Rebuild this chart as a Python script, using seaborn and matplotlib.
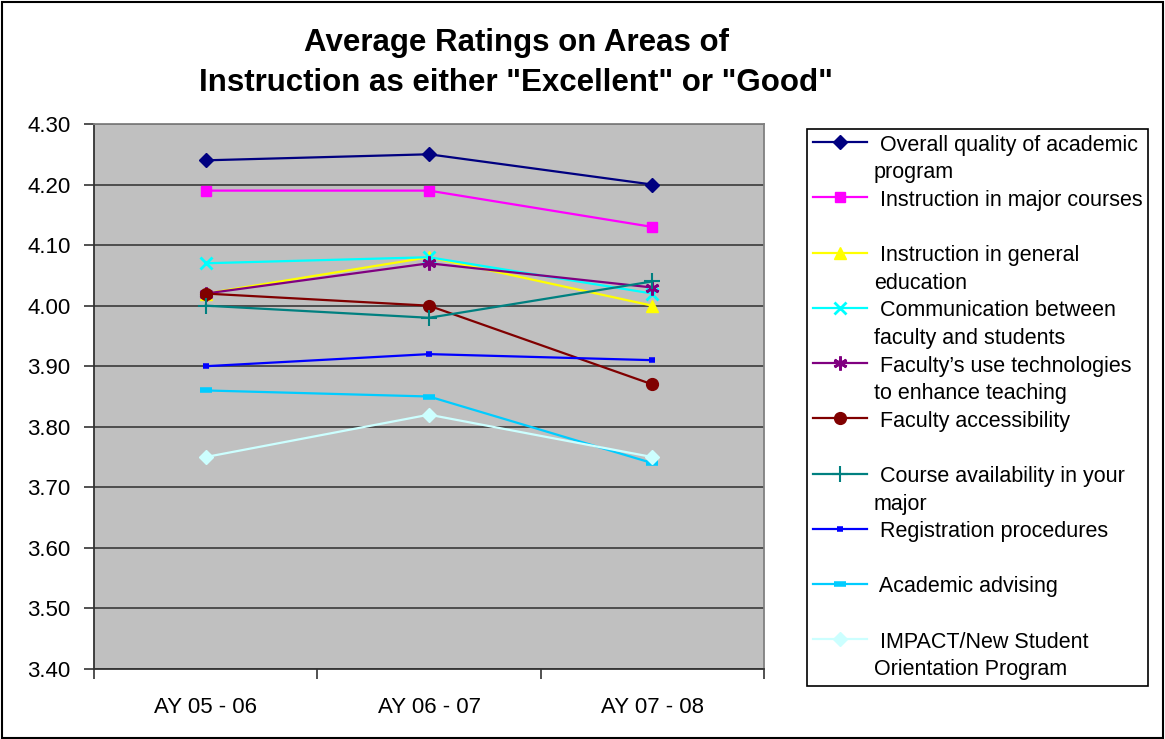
import numpy as np
import pandas as pd
import matplotlib
matplotlib.use("Agg")
import matplotlib.pyplot as plt
import seaborn as sns
from matplotlib.patches import Rectangle

years = ["AY 05 - 06", "AY 06 - 07", "AY 07 - 08"]

overall = [4.24, 4.25, 4.20]
major = [4.19, 4.19, 4.13]
general_ed = [4.02, 4.08, 4.00]
communication = [4.07, 4.08, 4.02]
tech_use = [4.02, 4.07, 4.03]
accessibility = [4.02, 4.00, 3.87]
course_avail = [4.00, 3.98, 4.04]
registration = [3.90, 3.92, 3.91]
advising = [3.86, 3.85, 3.74]
impact = [3.75, 3.82, 3.75]

labels = [" Overall quality of academic\nprogram",
          " Instruction in major courses\n ",
          " Instruction in general\neducation",
          " Communication between\nfaculty and students",
          " Faculty\u2019s use technologies\nto enhance teaching",
          " Faculty accessibility\n ",
          " Course availability in your\nmajor",
          " Registration procedures\n ",
          " Academic advising\n ",
          " IMPACT/New Student\nOrientation Program"]

series = [overall, major, general_ed, communication, tech_use,
          accessibility, course_avail, registration, advising, impact]

# colour, marker, markersize, edge width
styles = [("#000080", "D", 7.5, 1),
          ("#FF00FF", "s", 7.5, 1),
          ("#FFFF00", "^", 8.5, 1),
          ("#00FFFF", "x", 8.5, 2),
          ("#800080", (6, 2, 0), 10, 2),
          ("#800000", "o", 8.5, 1),
          ("#008080", "+", 11, 1.5),
          ("#0000FF", "_", 5, 4),
          ("#00CCFF", "_", 9, 4),
          ("#CCFFFF", "D", 7.5, 1)]

plt.rcParams["font.family"] = ["Liberation Sans", "DejaVu Sans"]

W, H = 1165, 739
fig = plt.figure(figsize=(W / 100, H / 100), dpi=100)
fig.patches.append(Rectangle((2 / W, 1 / H), (W - 4) / W, (H - 3) / H,
                             transform=fig.transFigure, fill=False,
                             edgecolor="black", linewidth=1.5))

ax = fig.add_axes([94 / W, 1 - 669 / H, 670 / W, 545 / H])
ax.set_facecolor("#C0C0C0")

for vals, lab, (c, m, ms, mew) in zip(series, labels, styles):
    df = pd.DataFrame({"year": years, "rating": vals})
    sns.lineplot(data=df, x="year", y="rating", ax=ax, color=c, marker=m,
                 markersize=ms, mec=c, mew=mew, linewidth=1.6, label=lab)

ax.set_xlim(-0.5, 2.5)
ax.set_ylim(3.40, 4.30)
ax.set_yticks(np.arange(3.40, 4.301, 0.10))
ax.set_yticklabels([f"{v:.2f}" for v in np.arange(3.40, 4.301, 0.10)])
ax.set_xticks([0, 1, 2])
ax.set_xticklabels(years)
ax.set_xticks([-0.5, 0.5, 1.5, 2.5], minor=True)
ax.tick_params(axis="x", which="major", length=0, pad=20, labelsize=16)
ax.tick_params(axis="x", which="minor", length=7, width=1.2, color="#333333")
ax.tick_params(axis="y", length=7, width=1.2, color="#333333", pad=10, labelsize=16)
ax.yaxis.grid(True, color="#444444", linewidth=1.3)
ax.set_axisbelow(True)
ax.set_xlabel("")
ax.set_ylabel("")
for s in ["left", "bottom"]:
    ax.spines[s].set_color("#333333")
    ax.spines[s].set_linewidth(1.3)
for s in ["top", "right"]:
    ax.spines[s].set_color("#808080")
    ax.spines[s].set_linewidth(1.3)

leg = ax.legend(loc="upper left", bbox_to_anchor=(807 / W, 1 - 129 / H),
                bbox_transform=fig.transFigure, borderaxespad=0,
                fancybox=False, edgecolor="black", framealpha=1,
                fontsize=15.5, labelspacing=0.31, handlelength=2.55,
                handletextpad=0.3, borderpad=0.26)
leg.get_frame().set_linewidth(1.2)
for t in leg.get_texts():
    t.set_linespacing(1.41)
for col in leg._legend_handle_box.get_children():
    for row in col.get_children():
        row.align = "top"

fig.text(516 / W, 1 - 51 / H, "Average Ratings on Areas of",
         ha="center", va="baseline", fontsize=22.5, fontweight="bold")
fig.text(516 / W, 1 - 91 / H, "Instruction as either \"Excellent\" or \"Good\"",
         ha="center", va="baseline", fontsize=22.5, fontweight="bold")

fig.savefig("out.png", dpi=100)
